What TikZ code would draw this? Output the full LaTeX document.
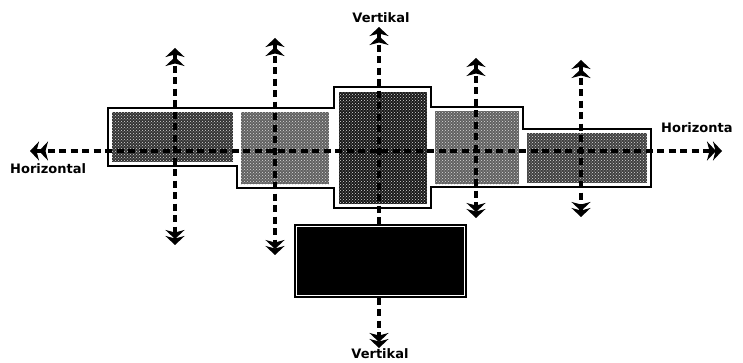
\documentclass[tikz,border=0pt]{standalone}
\usepackage{fontspec}
\setsansfont{DejaVu Sans}
\usetikzlibrary{arrows.meta, positioning, calc, patterns}
\tikzset{
  blockfill/.style={
    rectangle, draw=none, inner sep=0pt, anchor=north west,
    postaction={pattern=crosshatch dots, pattern color=white!85!black}
  },
  blockline/.style={
    line width=2.6pt, line join=miter
  },
  basebox/.style={
    rectangle, draw, line width=1.6pt, double=white, double distance=1.8pt,
    fill=black, inner sep=0pt
  },
  axisarrow/.style={
    line width=3.6pt, dash pattern=on 7pt off 4.5pt,
    {Stealth[length=9pt,width=19pt,inset=2.5pt,sep=-3pt]Stealth[length=9pt,width=19pt,inset=2.5pt]}-{Stealth[length=9pt,width=19pt,inset=2.5pt,sep=-3pt]Stealth[length=9pt,width=19pt,inset=2.5pt]}
  },
  axislabel/.style={
    font=\sffamily\bfseries\fontsize{13}{13}\selectfont, inner sep=0pt
  },
}
\begin{document}
\begin{tikzpicture}[x=1pt, y=-1pt]
  \useasboundingbox[fill=white] (0,0) rectangle (743,363);

  % === Building blocks (fills) ===
  \node[blockfill, fill=black!80, minimum width=121pt, minimum height=50pt] (blkA) at (112,112) {};
  \node[blockfill, fill=black!62, minimum width=88pt, minimum height=72pt] (blkB) at (241,112) {};
  \node[blockfill, fill=black!90, minimum width=88pt, minimum height=112pt] (blkC) at (339,92) {};
  \node[blockfill, fill=black!62, minimum width=84pt, minimum height=73pt] (blkD) at (435,111) {};
  \node[blockfill, fill=black!75, minimum width=120pt, minimum height=50pt] (blkE) at (527,133) {};

  % === Outline of the whole mass ===
  \draw[blockline] (108,108) -- (334,108) -- (334,87) -- (431,87) -- (431,107)
    -- (523,107) -- (523,129) -- (651,129) -- (651,187) -- (431,187)
    -- (431,208) -- (334,208) -- (334,188) -- (237,188) -- (237,166)
    -- (108,166) -- cycle;

  % === Dark base block ===
  \node[basebox, minimum width=168pt, minimum height=69pt] (base) at (380.5,261) {};

  % === Axis end points ===
  \coordinate (hL) at (33,151);
  \coordinate (hR) at (722,151);
  \coordinate (vAt) at (175,51);   \coordinate (vAb) at (175,245);
  \coordinate (vBt) at (275,41);   \coordinate (vBb) at (275,255);
  \coordinate (vCt) at (379,30);   \coordinate (vCb) at (379,348);
  \coordinate (vDt) at (476,61);   \coordinate (vDb) at (476,218);
  \coordinate (vEt) at (581,63);   \coordinate (vEb) at (581,217);

  % === Axes ===
  \draw[axisarrow] (hL) -- (hR);
  \draw[axisarrow] (vAt) -- (vAb);
  \draw[axisarrow] (vBt) -- (vBb);
  \draw[axisarrow] (vCt) -- (vCb);
  \draw[axisarrow] (vDt) -- (vDb);
  \draw[axisarrow] (vEt) -- (vEb);

  % === Labels ===
  \node[axislabel] (vTop) at (381,18) {Vertikal};
  \node[axislabel] (vBot) at (380,354) {Vertikal};
  \node[axislabel, anchor=west] (hLeft) at (10,169) {Horizontal};
  \node[axislabel, anchor=west] (hRight) at (661,128) {Horizonta};
\end{tikzpicture}
\end{document}
